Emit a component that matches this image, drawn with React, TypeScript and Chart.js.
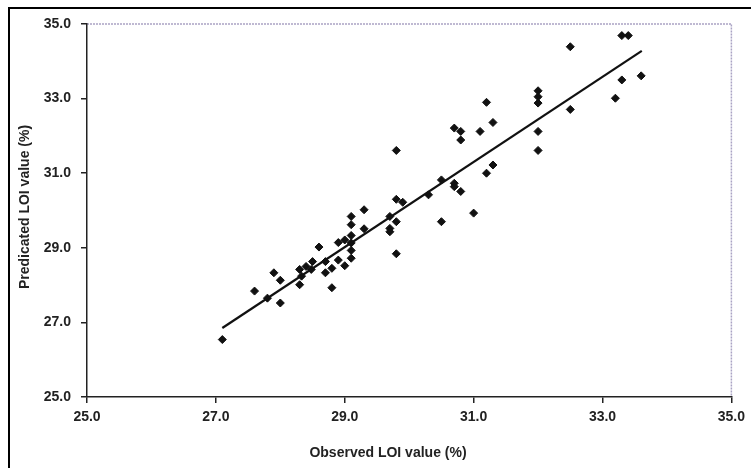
import React, { useEffect, useRef } from "react";
import { Chart, registerables } from "chart.js";

Chart.register(...registerables);

const observed = [
  27.1, 27.6, 27.8, 28.0, 27.9, 28.0, 28.3, 28.3, 28.33, 28.4, 28.5, 28.48, 28.6, 28.7, 28.8, 28.8,
  28.7, 28.9, 28.9, 29.0, 29.0, 29.1, 29.1, 29.1, 29.1, 29.1, 29.1, 29.3, 29.3, 29.7, 29.7, 29.7,
  29.8, 29.9, 29.8, 29.8, 29.8, 30.3, 30.5, 30.5, 30.7, 30.7, 30.8, 31.0, 30.7, 30.8, 30.8, 31.1,
  31.2, 31.3, 31.2, 31.3, 32.0, 32.0, 32.0, 32.0, 32.0, 32.5, 32.5, 33.3, 33.4, 33.3, 33.2, 33.6,
];
const predicted = [
  26.54, 27.84, 27.65, 27.52, 28.33, 28.13, 28.42, 28.01, 28.24, 28.5, 28.63, 28.42, 29.02, 28.33, 27.93, 28.45,
  28.63, 29.14, 28.67, 28.52, 29.21, 29.84, 29.62, 29.33, 29.13, 28.93, 28.72, 30.02, 29.51, 29.84, 29.52, 29.43,
  30.3, 30.22, 29.7, 28.84, 31.61, 30.42, 30.82, 29.7, 30.73, 30.64, 30.51, 29.93, 32.21, 32.12, 31.89, 32.12,
  32.9, 32.36, 31.0, 31.22, 33.21, 33.05, 32.88, 32.12, 31.61, 34.39, 32.71, 34.69, 34.69, 33.5, 33.01, 33.61,
];
const fitX = [27.1, 33.61];
const fitY = [26.85, 34.28];
const tickValues = [25, 27, 29, 31, 33, 35];
const xTitle = "Observed LOI value (%)";
const yTitle = "Predicated LOI value (%)";

const FONT = "'Liberation Sans', Arial, sans-serif";
const TEXT = "#222";

export default function App() {
  const ref = useRef<HTMLCanvasElement | null>(null);
  useEffect(() => {
    if (!ref.current) return;
    const decor = {
      id: "decor",
      beforeDraw(chart: any) {
        const ctx = chart.ctx;
        const a = chart.chartArea;
        ctx.save();
        ctx.fillStyle = "#ffffff";
        ctx.fillRect(0, 0, chart.width, chart.height);
        ctx.strokeStyle = "#000";
        ctx.lineWidth = 2;
        ctx.beginPath();
        ctx.moveTo(9, chart.height);
        ctx.lineTo(9, 8);
        ctx.lineTo(chart.width, 8);
        ctx.stroke();
        ctx.strokeStyle = "#aaa3c4";
        ctx.lineWidth = 1.5;
        ctx.setLineDash([2, 1]);
        ctx.beginPath();
        ctx.moveTo(a.left, a.top);
        ctx.lineTo(a.right, a.top);
        ctx.lineTo(a.right, a.bottom);
        ctx.stroke();
        ctx.setLineDash([]);
        ctx.restore();
      },
      afterDraw(chart: any) {
        const ctx = chart.ctx;
        ctx.save();
        ctx.fillStyle = TEXT;
        ctx.font = `bold 14px ${FONT}`;
        ctx.textAlign = "center";
        ctx.textBaseline = "middle";
        ctx.fillText(xTitle, 388, 453);
        ctx.translate(25, 207);
        ctx.rotate(-Math.PI / 2);
        ctx.fillText(yTitle, 0, 0);
        ctx.restore();
      },
    };
    const tickFont = { family: FONT, size: 14, weight: "bold" };
    const axis = (extra: any) => ({
      type: "linear",
      min: 25,
      max: 35,
      afterBuildTicks: (s: any) => {
        s.ticks = tickValues.map((v) => ({ value: v }));
      },
      grid: {
        display: true,
        drawOnChartArea: false,
        drawTicks: true,
        tickLength: 6,
        color: "#222",
        lineWidth: 1.5,
      },
      border: { display: true, color: "#222", width: 1.5 },
      title: { display: false },
      ...extra,
    });
    const chart = new Chart(ref.current, {
      type: "scatter",
      data: {
        datasets: [
          {
            type: "line",
            data: fitX.map((x, i) => ({ x, y: fitY[i] })),
            borderColor: "#111",
            borderWidth: 2.2,
            pointRadius: 0,
            fill: false,
          } as any,
          {
            data: observed.map((x, i) => ({ x, y: predicted[i] })),
            pointStyle: "rectRot",
            pointRadius: 4,
            backgroundColor: "#111",
            borderColor: "#111",
            borderWidth: 1,
          },
        ],
      },
      options: {
        animation: false,
        responsive: false,
        devicePixelRatio: 1,
        layout: { padding: { left: 0, right: 14, top: 24, bottom: 0 } },
        plugins: { legend: { display: false }, tooltip: { enabled: false } },
        scales: {
          x: axis({
            position: "bottom",
            afterFit: (s: any) => {
              s.height = 71;
            },
            ticks: {
              color: TEXT,
              font: tickFont,
              callback: (v: any) => Number(v).toFixed(1),
              maxRotation: 0,
              autoSkip: false,
              padding: 6,
            },
          }),
          y: axis({
            position: "left",
            afterFit: (s: any) => {
              s.width = 87;
            },
            ticks: {
              color: TEXT,
              font: tickFont,
              callback: (v: any) => Number(v).toFixed(1),
              autoSkip: false,
              padding: 10,
            },
          }),
        },
      } as any,
      plugins: [decor],
    });
    return () => chart.destroy();
  }, []);
  return (
    <div style={{ position: "fixed", left: 0, top: 0, width: 751, height: 468, background: "#fff" }}>
      <canvas ref={ref} width={751} height={468} style={{ display: "block" }} />
    </div>
  );
}
